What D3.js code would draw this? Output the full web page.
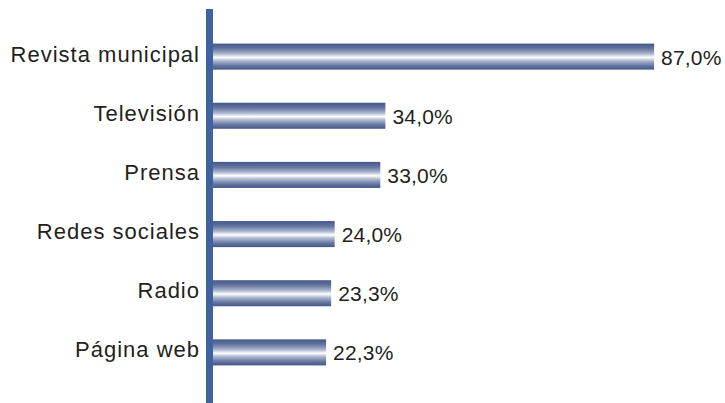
<!DOCTYPE html>
<html>
<head>
<meta charset="utf-8">
<script src="https://cdn.jsdelivr.net/npm/d3@7"></script>
<style>
  body { margin: 0; background: #fff; }
  svg { display: block; }
  text { font-family: "Liberation Sans", Arial, Helvetica, sans-serif; fill: #231f20; }
</style>
</head>
<body>
<svg id="chart" width="725" height="403"></svg>
<script>
const categories = ["Revista municipal", "Televisión", "Prensa", "Redes sociales", "Radio", "Página web"];
const values = [87.0, 34.0, 33.0, 24.0, 23.3, 22.3];
const valueLabels = ["87,0%", "34,0%", "33,0%", "24,0%", "23,3%", "22,3%"];

const svg = d3.select("#chart");
const W = 725, H = 403;

const x = d3.scaleLinear().domain([0, 100]).range([213, 720]);
const y = d3.scaleBand().domain(categories).range([14, 395]).paddingInner(0.56).paddingOuter(0.5);

const defs = svg.append("defs");
const grad = defs.append("linearGradient")
  .attr("id", "barGrad").attr("x1", 0).attr("y1", 0).attr("x2", 0).attr("y2", 1);
[[0, "#43568a"], [0.2, "#65769f"], [0.4, "#aeb8d0"], [0.53, "#ffffff"], [0.66, "#aeb8d0"], [0.85, "#65769f"], [1, "#43568a"]]
  .forEach(([o, c]) => grad.append("stop").attr("offset", o).attr("stop-color", c));

const data = categories.map((c, i) => ({ c, v: values[i], l: valueLabels[i] }));

svg.append("g").selectAll("rect").data(data).join("rect")
  .attr("x", x(0))
  .attr("y", d => y(d.c))
  .attr("width", d => x(d.v) - x(0))
  .attr("height", y.bandwidth())
  .attr("fill", "url(#barGrad)");

// axis line
svg.append("rect")
  .attr("x", 206).attr("y", 9)
  .attr("width", 7).attr("height", H - 9)
  .attr("fill", "#4063a0");

// category labels
svg.append("g").selectAll("text").data(data).join("text")
  .attr("x", 200)
  .attr("y", d => y(d.c) + y.bandwidth() / 2 + 5)
  .attr("text-anchor", "end")
  .attr("font-size", 22)
  .attr("letter-spacing", 1)
  .text(d => d.c);

// value labels
svg.append("g").selectAll("text").data(data).join("text")
  .attr("x", d => x(d.v) + 7)
  .attr("y", d => y(d.c) + y.bandwidth() / 2 + 8)
  .attr("font-size", 21)
  .attr("letter-spacing", 0.2)
  .text(d => d.l);
</script>
</body>
</html>
